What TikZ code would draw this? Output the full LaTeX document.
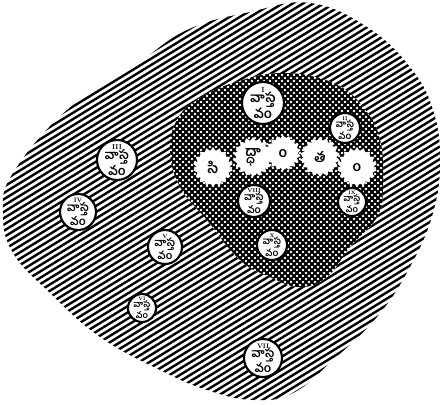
\documentclass[tikz,border=0pt]{standalone}
\usepackage{fontspec}
\usepackage{trimclip}
\newfontfamily\telugu[Script=Telugu]{Hind Guntur}
\usetikzlibrary{shapes.geometric}
% lone anusvara: the shaper puts a dotted circle before it, clip that away
\newsavebox\anubox
\newsavebox\dotbox
\newcommand\anusvara{\sbox\anubox{ం}\sbox\dotbox{◌}%
	\edef\cliparg{\the\wd\dotbox\space 0pt 0pt 0pt}%
	\expandafter\clipbox\expandafter{\cliparg}{\usebox\anubox}}

\begin{document}
\begin{tikzpicture}[x=0.5mm, y=-0.5mm, line join=round, line cap=round,
	fact/.style={circle, draw, line width=3pt, fill=white, inner sep=0pt, align=center},
	burst/.style={star, star points=18, star point ratio=1.22, fill=white, inner sep=0pt,
		font=\telugu\bfseries\fontsize{20}{20}\selectfont}]
	\useasboundingbox (0,0) rectangle (441,404);
	% outer region
	\begin{scope}
		\clip plot[smooth cycle, tension=0.7] coordinates {(13,173) (67,110) (133,67) (187,30) (250,12) (310,3)
			(367,27) (410,67) (433,110) (440,160) (433,213) (410,267) (377,317) (333,360) (293,393)
			(253,400) (207,390) (160,370) (100,337) (50,293) (13,253) (3,213)};
		\foreach \c in {0,6.3,...,700} \draw[line width=3.4pt, line cap=butt] (0,\c) -- (441,\c-270);
	\end{scope}
	% inner region
	\begin{scope}
		\clip plot[smooth cycle, tension=0.7] coordinates {(197,100) (233,83) (283,73) (333,83) (363,107)
			(380,140) (383,187) (377,217) (350,247) (327,277) (300,287) (270,277) (240,260)
			(207,220) (180,187) (170,150) (177,120)};
		\fill[white] (0,0) rectangle (441,404);
		\foreach \c in {-450,-444,...,850} {
			\draw[line width=2.6pt, line cap=butt] (0,\c) -- (441,\c+441);
			\draw[line width=2.6pt, line cap=butt] (0,\c) -- (441,\c-441);
		}
	\end{scope}
	% theory
	\foreach \n/\x/\y/\r/\t in {s1/213/167/20/సి, s2/253/157/20/ద్ధా, s3/283/153/18/\anusvara, s4/320/157/20/త, s5/357/167/20/\anusvara}
		\node[burst, minimum size=\r mm] (\n) at (\x,\y) {\t};
	% facts
	\foreach \n/\x/\y/\r/\k in {f1/263/103/21/I, f2/345/128/15/II, f3/117/160/20/III, f4/78/212/18/IV,
		f5/165/247/17/V, f6/142/308/14/VI, f7/263/358/19/VII, f8/254/201/16/VIII, f9/352/202/14/IX, f10/272/245/15/X}
	{
		\pgfmathsetmacro\fs{\r*0.9}
		\pgfmathsetmacro\ls{\r*0.72}
		\pgfmathsetmacro\ks{\r*0.5}
		\node[fact, minimum size=\r mm, font=\telugu\bfseries\fontsize{\fs}{\ls}\selectfont] (\n) at (\x,\y)
			{{\rmfamily\bfseries\fontsize{\ks}{\ks}\selectfont\k}\\వాస్త\\వం};
	}
\end{tikzpicture}
\end{document}
